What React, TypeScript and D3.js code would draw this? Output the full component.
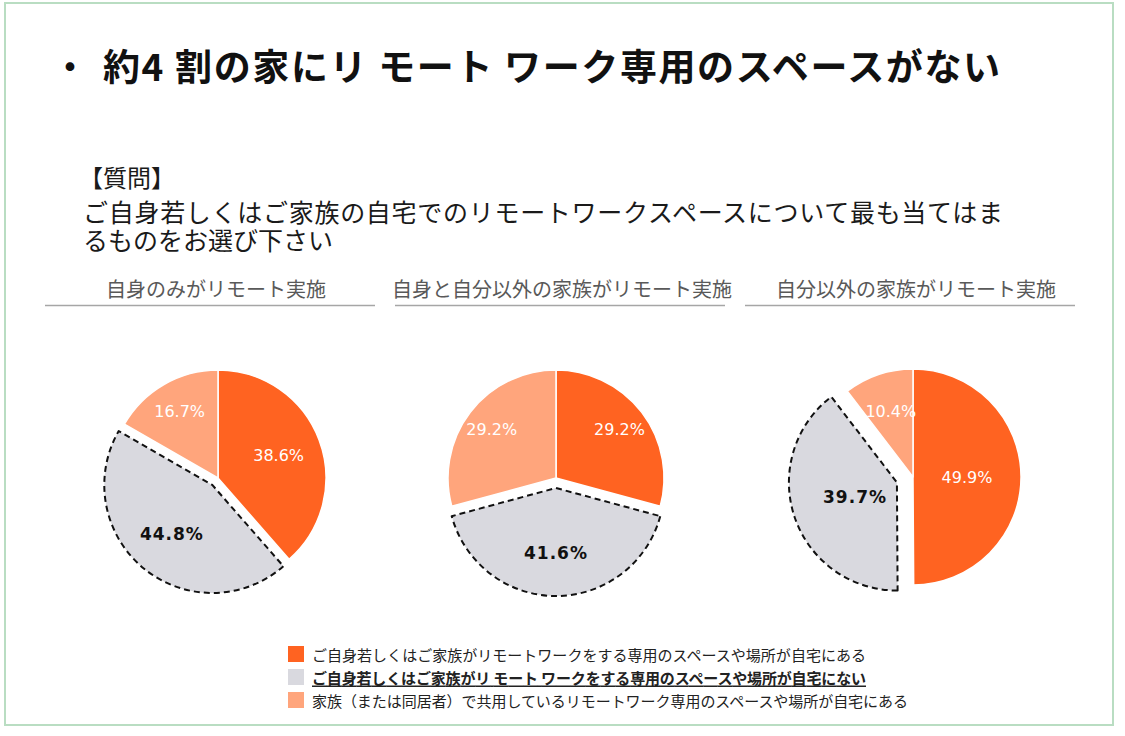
import React from "react";
import * as d3 from "d3";

const TITLE = "約4 割の家にリ モート ワーク専用のスペースがない";
const QUESTION_HEAD = "【質問】";
const QUESTION_LINES = [
  "ご自身若しくはご家族の自宅でのリモートワークスペースについて最も当てはま",
  "るものをお選び下さい",
];
const GROUPS = ["自身のみがリモート実施", "自身と自分以外の家族がリモート実施", "自分以外の家族がリモート実施"];
const CATEGORIES = [
  "ご自身若しくはご家族がリモートワークをする専用のスペースや場所が自宅にある",
  "ご自身若しくはご家族がリ モート ワークをする専用のスペースや場所が自宅にない",
  "家族（または同居者）で共用しているリモートワーク専用のスペースや場所が自宅にある",
];
const VALUES_SELF = [38.6, 44.8, 16.7];
const VALUES_BOTH = [29.2, 41.6, 29.2];
const VALUES_FAMILY = [49.9, 39.7, 10.4];
const SERIES = [VALUES_SELF, VALUES_BOTH, VALUES_FAMILY];

// layout / style constants
const COLORS = ["#ff6321", "#d9d9df", "#ffa57c"];
const PIE_CX = [218, 556, 913];
const PIE_CY = [478, 478, 477];
const PANEL_X = [45, 395, 745];
const PANEL_W = 330;
const R = 108;
const EXPLODE = [9, 10, 17];
const LABEL_FRAC = [
  [0.6, 0.59, 0.71],
  [0.74, 0.6, 0.75],
  [0.5, 0.41, 0.64],
];
const LEGEND_LEN = [554, 554, 596];
const JP = "'Noto Sans CJK JP', 'Noto Sans', sans-serif";
const NUM = "'DejaVu Sans', Verdana, sans-serif";

function Pie({ idx }: { idx: number }) {
  const values = SERIES[idx];
  const pie = d3.pie<number>().sort(null).value((d) => d)(values);
  const arc = d3.arc<d3.PieArcDatum<number>>().innerRadius(0).outerRadius(R);
  return (
    <g transform={`translate(${PIE_CX[idx]},${PIE_CY[idx]})`}>
      {pie.map((p, i) => {
        const mid = (p.startAngle + p.endAngle) / 2;
        const off = i === 1 ? EXPLODE[idx] : 0;
        const ox = Math.sin(mid) * off;
        const oy = -Math.cos(mid) * off;
        return (
          <path
            key={i}
            d={arc(p) || ""}
            transform={`translate(${ox},${oy})`}
            fill={COLORS[i]}
            stroke={i === 1 ? "#111" : "#fff"}
            strokeWidth={i === 1 ? 2 : 1.5}
            strokeDasharray={i === 1 ? "6,4" : undefined}
            strokeLinejoin="round"
          />
        );
      })}
      {pie.map((p, i) => {
        const mid = (p.startAngle + p.endAngle) / 2;
        const off = i === 1 ? EXPLODE[idx] : 0;
        const rr = R * LABEL_FRAC[idx][i] + off;
        const x = Math.sin(mid) * rr;
        const y = -Math.cos(mid) * rr;
        const bold = i === 1;
        return (
          <text
            key={"l" + i}
            x={x}
            y={y}
            dy="0.36em"
            textAnchor="middle"
            fontFamily={NUM}
            fontSize={bold ? 17 : 16}
            fontWeight={bold ? "bold" : "normal"}
            letterSpacing={bold ? 1 : 0}
            fill={bold ? "#111" : "#fff"}
          >
            {d3.format(".1f")(p.data)}%
          </text>
        );
      })}
    </g>
  );
}

export default function App() {
  return (
    <svg
      width={1125}
      height={736}
      style={{ position: "absolute", left: 0, top: 0, background: "#fff" }}
    >
      <rect x={5} y={3} width={1108} height={722} fill="#fff" stroke="#b9ddc2" strokeWidth={2} />
      <text x={70} y={65} textAnchor="middle" dominantBaseline="central" fontFamily={JP} fontWeight="bold" fontSize={34} fill="#111">
        ・
      </text>
      <text x={103} y={65} dominantBaseline="central" fontFamily={JP} fontWeight="bold" fontSize={37} fill="#111" textLength={897} lengthAdjust="spacing">
        {TITLE}
      </text>
      <text x={79} y={176} dominantBaseline="central" fontFamily={JP} fontSize={24} fill="#1a1a1a">
        {QUESTION_HEAD}
      </text>
      <text fontFamily={JP} fontSize={25} fill="#1a1a1a" dominantBaseline="central">
        <tspan x={83} y={211} textLength={920} lengthAdjust="spacing">
          {QUESTION_LINES[0]}
        </tspan>
        <tspan x={83} y={239}>
          {QUESTION_LINES[1]}
        </tspan>
      </text>
      {GROUPS.map((g, i) => (
        <g key={g}>
          <text
            x={PANEL_X[i] + PANEL_W / 2 + (i === 1 ? 2 : 6)}
            y={288}
            textAnchor="middle"
            dominantBaseline="central"
            fontFamily={JP}
            fontSize={20}
            fill="#595959"
          >
            {g}
          </text>
          <line x1={PANEL_X[i]} x2={PANEL_X[i] + PANEL_W} y1={305.5} y2={305.5} stroke="#a6a6a6" strokeWidth={1.5} />
        </g>
      ))}
      {SERIES.map((_, i) => (
        <Pie key={i} idx={i} />
      ))}
      {CATEGORIES.map((c, i) => (
        <g key={c} transform={`translate(288,${646 + i * 23})`}>
          <rect x={0} y={0} width={16} height={16} fill={COLORS[i]} />
          <text
            x={24}
            y={8}
            dominantBaseline="central"
            fontFamily={JP}
            fontSize={15}
            fontWeight={i === 1 ? "bold" : "normal"}
            fill="#222"
            textLength={LEGEND_LEN[i]}
            lengthAdjust="spacing"
            style={i === 1 ? { textDecoration: "underline" } : undefined}
          >
            {c}
          </text>
        </g>
      ))}
    </svg>
  );
}
